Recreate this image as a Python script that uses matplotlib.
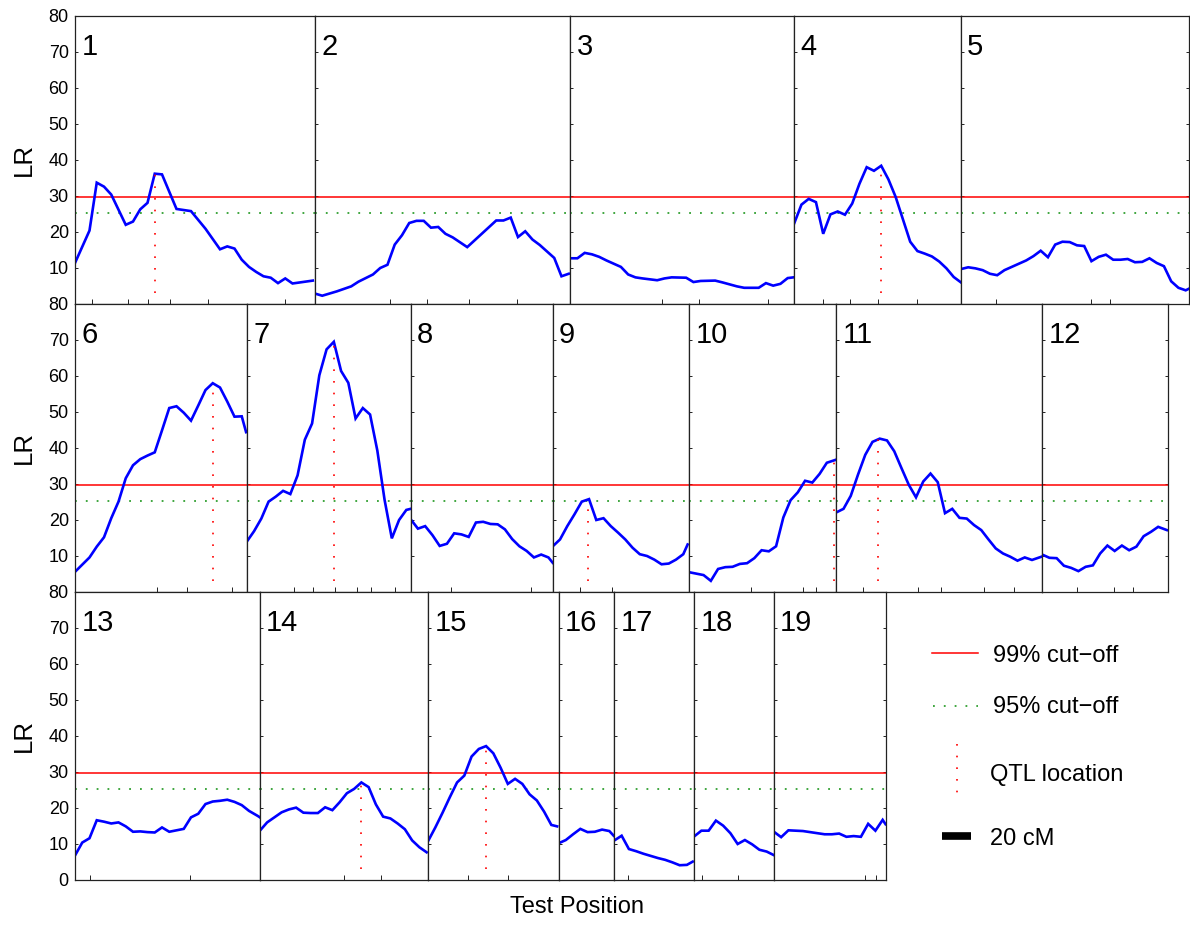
import numpy as np
import matplotlib
matplotlib.use('Agg')
import matplotlib.pyplot as plt

plt.rcParams['font.family'] = ['Liberation Sans', 'DejaVu Sans']

# chromosome lengths (cM) and how they are split over the three rows
chrom_len = [165.5, 176, 154.5, 115, 157, 118.5, 113, 98, 94, 101.5, 142, 87,
             127.5, 116, 90, 38.5, 55, 55, 77]
rows = [list(range(0, 5)), list(range(5, 12)), list(range(12, 19))]

# LR profile along each chromosome: test position (cM) and LR
pos_1 = [0, 10, 15, 20, 25, 35, 40, 45, 50, 55, 60, 70, 80, 90, 100, 105, 110, 115, 120, 125, 130, 135, 140, 145, 150, 164]
lr_1 = [11.4, 20.4, 33.7, 32.6, 30.4, 22.0, 22.9, 26.3, 28.1, 36.2, 36.0, 26.4, 25.8, 20.9, 15.2, 16.0, 15.4, 12.3, 10.3, 8.9, 7.7, 7.3, 5.8, 7.1, 5.7, 6.5]
pos_2 = [0, 5, 15, 25, 30, 40, 45, 50, 55, 60, 65, 70, 75, 80, 85, 90, 95, 105, 115, 125, 130, 135, 140, 145, 150, 155, 165, 170, 175]
lr_2 = [2.9, 2.3, 3.5, 4.9, 6.2, 8.2, 10.0, 10.9, 16.5, 19.1, 22.5, 23.1, 23.1, 21.2, 21.4, 19.5, 18.5, 15.8, 19.5, 23.2, 23.2, 24.0, 18.6, 20.2, 17.9, 16.4, 12.8, 7.7, 8.4]
pos_3 = [0, 5, 10, 15, 20, 25, 35, 40, 45, 50, 60, 65, 70, 80, 85, 90, 100, 105, 115, 120, 130, 135, 140, 145, 150, 154]
lr_3 = [12.7, 12.7, 14.2, 13.8, 13.1, 12.1, 10.3, 8.2, 7.4, 7.1, 6.6, 7.1, 7.4, 7.3, 6.1, 6.4, 6.5, 6.0, 4.9, 4.5, 4.5, 5.8, 5.1, 5.6, 7.2, 7.4]
pos_4 = [0, 5, 10, 15, 20, 25, 30, 35, 40, 45, 50, 55, 60, 65, 70, 80, 85, 90, 95, 100, 105, 110, 115]
lr_4 = [22.4, 27.6, 29.2, 28.3, 19.5, 24.9, 25.7, 24.8, 27.9, 33.4, 38.0, 37.0, 38.4, 34.6, 29.7, 17.3, 14.7, 14.0, 13.2, 11.8, 9.9, 7.5, 6.0]
pos_5 = [0, 5, 10, 15, 20, 25, 30, 35, 45, 50, 55, 60, 65, 70, 75, 80, 85, 90, 95, 100, 105, 110, 115, 120, 125, 130, 135, 140, 145, 150, 155, 157]
lr_5 = [9.7, 10.2, 9.9, 9.4, 8.4, 8.0, 9.4, 10.3, 12.1, 13.3, 14.8, 13.0, 16.5, 17.3, 17.2, 16.3, 16.1, 11.9, 13.1, 13.7, 12.3, 12.3, 12.5, 11.6, 11.7, 12.7, 11.4, 10.5, 6.3, 4.5, 3.8, 4.2]
pos_6 = [0, 10, 15, 20, 25, 30, 35, 40, 45, 50, 55, 60, 65, 70, 75, 80, 85, 90, 95, 100, 105, 110, 115, 118]
lr_6 = [5.6, 9.6, 12.6, 15.2, 20.5, 25.1, 31.6, 35.2, 36.9, 37.9, 38.8, 44.9, 51.1, 51.6, 49.8, 47.6, 51.8, 56.1, 58.0, 56.8, 52.9, 48.7, 48.8, 44.4]
pos_7 = [0, 5, 10, 15, 20, 25, 30, 35, 40, 45, 50, 55, 60, 65, 70, 75, 80, 85, 90, 95, 100, 105, 110, 113]
lr_7 = [14.0, 16.9, 20.4, 25.1, 26.5, 28.1, 27.2, 32.4, 42.3, 46.8, 60.2, 67.4, 69.5, 61.4, 58.1, 48.2, 51.1, 49.3, 39.3, 25.6, 14.9, 20.0, 22.8, 23.1]
pos_8 = [0, 5, 10, 15, 20, 25, 30, 35, 40, 45, 50, 55, 60, 65, 70, 75, 80, 85, 90, 95, 98]
lr_8 = [20.2, 17.6, 18.3, 15.8, 12.8, 13.4, 16.3, 16.0, 15.3, 19.3, 19.5, 18.9, 18.8, 17.4, 14.7, 12.7, 11.4, 9.6, 10.4, 9.6, 8.1]
pos_9 = [0, 5, 10, 15, 20, 25, 30, 35, 40, 45, 50, 55, 60, 65, 70, 75, 80, 85, 90, 93]
lr_9 = [12.7, 14.6, 18.3, 21.6, 25.1, 25.8, 20.0, 20.5, 18.3, 16.5, 14.6, 12.3, 10.5, 10.0, 9.0, 7.7, 7.9, 9.0, 10.5, 13.2]
pos_10 = [0, 5, 10, 15, 20, 25, 30, 35, 40, 45, 50, 55, 60, 65, 70, 75, 80, 85, 90, 95, 101]
lr_10 = [5.5, 5.1, 4.7, 3.1, 6.4, 6.9, 7.0, 7.8, 8.0, 9.4, 11.6, 11.3, 12.7, 20.7, 25.5, 27.7, 30.9, 30.4, 32.8, 35.9, 36.7]
pos_11 = [0, 5, 10, 15, 20, 25, 30, 35, 40, 45, 50, 55, 60, 65, 70, 75, 80, 85, 90, 95, 100, 105, 110, 115, 120, 125, 130, 135, 141.5]
lr_11 = [22.1, 23.1, 26.7, 32.6, 38.1, 41.7, 42.6, 42.1, 39.1, 34.4, 29.8, 26.3, 30.7, 32.9, 30.5, 21.9, 23.1, 20.6, 20.4, 18.6, 17.2, 14.6, 12.1, 10.7, 9.8, 8.7, 9.6, 8.9, 9.8]
pos_12 = [0, 5, 10, 15, 20, 25, 30, 35, 40, 45, 50, 55, 60, 65, 70, 75, 80, 86]
lr_12 = [10.4, 9.5, 9.4, 7.3, 6.7, 5.8, 7.0, 7.4, 10.7, 12.9, 11.4, 12.9, 11.6, 12.6, 15.5, 16.7, 18.1, 17.2]
pos_13 = [0, 5, 10, 15, 20, 25, 30, 35, 40, 45, 50, 55, 60, 65, 70, 75, 80, 85, 90, 95, 100, 105, 110, 115, 120, 126, 127.5]
lr_13 = [6.8, 10.4, 11.6, 16.6, 16.2, 15.7, 16.0, 14.9, 13.4, 13.5, 13.3, 13.2, 14.6, 13.4, 13.8, 14.2, 17.4, 18.4, 21.1, 21.8, 22.0, 22.3, 21.7, 20.8, 19.2, 17.8, 17.4]
pos_14 = [0, 5, 10, 15, 20, 25, 30, 35, 40, 45, 50, 55, 60, 65, 70, 75, 80, 85, 90, 95, 100, 105, 110, 115]
lr_14 = [13.7, 16.0, 17.4, 18.8, 19.6, 20.1, 18.7, 18.6, 18.6, 20.2, 19.4, 21.6, 24.1, 25.3, 27.1, 25.8, 21.0, 17.6, 17.1, 15.7, 14.1, 11.0, 9.1, 7.7]
pos_15 = [0, 5, 10, 15, 20, 25, 30, 35, 40, 45, 50, 55, 60, 65, 70, 75, 80, 85, 89]
lr_15 = [10.8, 14.6, 18.7, 23.0, 27.1, 29.0, 34.3, 36.4, 37.2, 35.2, 31.2, 26.7, 28.1, 26.7, 23.8, 22.1, 19.0, 15.3, 14.9]
pos_16 = [0, 5, 10, 15, 20, 25, 30, 35, 38]
lr_16 = [10.2, 11.1, 12.7, 14.2, 13.3, 13.4, 14.0, 13.6, 12.3]
pos_17 = [0, 5, 10, 15, 20, 25, 30, 35, 40, 45, 50, 54]
lr_17 = [11.0, 12.3, 8.6, 8.0, 7.3, 6.7, 6.1, 5.6, 4.9, 4.1, 4.2, 5.1]
pos_18 = [0, 5, 10, 15, 20, 25, 30, 35, 40, 45, 50, 55]
lr_18 = [12.1, 13.7, 13.7, 16.5, 15.1, 13.0, 10.0, 11.1, 9.9, 8.4, 7.9, 6.9]
pos_19 = [0, 5, 10, 20, 25, 35, 40, 45, 50, 55, 60, 65, 70, 75, 77]
lr_19 = [13.4, 11.9, 13.8, 13.6, 13.3, 12.7, 12.7, 12.9, 12.0, 12.2, 12.0, 15.6, 13.7, 16.7, 15.5]

positions = [pos_1, pos_2, pos_3, pos_4, pos_5, pos_6, pos_7, pos_8, pos_9, pos_10,
             pos_11, pos_12, pos_13, pos_14, pos_15, pos_16, pos_17, pos_18, pos_19]
lr_values = [lr_1, lr_2, lr_3, lr_4, lr_5, lr_6, lr_7, lr_8, lr_9, lr_10,
             lr_11, lr_12, lr_13, lr_14, lr_15, lr_16, lr_17, lr_18, lr_19]

# marker positions shown as small ticks on the bottom axis
markers = [[11.5, 36.8, 50.6, 65.5, 92, 144.8], [51.7, 77.5, 106.4, 139.5], [63.2, 88.5, 136.3],
           [20, 38.4, 57.9, 85], [23.9, 89.7, 102.8], [56.6, 77.4, 108],
           [32.3, 45.9, 60.9, 75.9, 85.5, 102.5], [27.6, 82.8], [18.6, 41], [42.7, 78.6, 87.3],
           [18.4, 56.5, 72.3, 101.9, 122.4], [23.8, 49.3, 62.6], [10.5, 79], [57.9, 83.6],
           [27.6, 55.3], [], [9.1], [5.7, 30.5], [62.9, 70.2]]

qtl_chrom = [1, 4, 6, 7, 9, 10, 11, 14, 15]
qtl_pos = [55, 60, 95, 60, 24, 100, 29, 70, 40]

cut_99 = 29.6
cut_95 = 25.4
scale_bar_cm = 20

W, H = 1190, 925
PX_PER_CM = 1.45
LEFT = 75
ROW_TOP = [16, 304, 592]
ROW_H = 288

RED = '#ff0000'
GREEN = '#2f9f2f'
BLUE = '#0000ff'
FRAME = '#222222'

fig = plt.figure(figsize=(W / 100, H / 100), dpi=100)

for r, chroms in enumerate(rows):
    x0 = LEFT
    for k, c in enumerate(chroms):
        w = chrom_len[c] * PX_PER_CM
        ax = fig.add_axes([x0 / W, 1 - (ROW_TOP[r] + ROW_H) / H, w / W, ROW_H / H])
        x0 += w
        ax.set_xlim(0, chrom_len[c])
        ax.set_ylim(0, 80)

        ax.axhline(cut_99, color=RED, lw=1.1)
        ax.axhline(cut_95, color=GREEN, lw=1.3, ls=(0, (1, 5)))
        ax.plot(positions[c], lr_values[c], color=BLUE, lw=1.9, solid_joinstyle='miter')

        if c + 1 in qtl_chrom:
            q = qtl_pos[qtl_chrom.index(c + 1)]
            top = np.interp(q, positions[c], lr_values[c])
            ax.vlines(q, 3, top, color=RED, lw=1.2, linestyles=[(0, (1, 6))])

        ax.annotate(str(c + 1), xy=(0, 1), xycoords='axes fraction',
                    xytext=(4.5, -12.5), textcoords='offset points',
                    ha='left', va='top', fontsize=21)

        for s in ax.spines.values():
            s.set_color(FRAME)
            s.set_linewidth(0.9)
        ax.set_yticks(range(0, 81, 10))
        # the row below labels the shared boundary with its "80"
        if r < 2:
            ax.set_yticklabels([''] + [str(v) for v in range(10, 81, 10)])
        ax.set_xticks(markers[c])
        ax.tick_params(axis='x', direction='in', length=3.5, width=0.7, color=FRAME,
                       labelbottom=False)
        ax.tick_params(axis='y', direction='in', length=2.5, width=0.7, color=FRAME,
                       labelsize=13, pad=4.5, labelleft=(k == 0),
                       right=(k == len(chroms) - 1))

    fig.text(24 / W, 1 - (ROW_TOP[r] + ROW_H / 2) / H, 'LR', rotation=90,
             ha='center', va='center', fontsize=18.5)

fig.text(577 / W, 1 - 907 / H, 'Test Position', ha='center', va='center', fontsize=17)

# legend drawn in its own axes: x in cM so the scale bar matches the panels
leg = fig.add_axes([900 / W, 1 - 880 / H, 290 / W, 260 / H])
leg.set_xlim(0, 290 / PX_PER_CM)
leg.set_ylim(880, 620)
leg.axis('off')


def cm(px):
    return (px - 900) / PX_PER_CM


leg.plot([cm(932), cm(978)], [653, 653], color=RED, lw=1.1)
leg.text(cm(993), 662, '99% cut\u2212off', va='baseline', fontsize=17)
leg.plot([cm(933), cm(978)], [706, 706], color=GREEN, lw=1.3, ls=(0, (1, 5)))
leg.text(cm(993), 713, '95% cut\u2212off', va='baseline', fontsize=17)
leg.plot([cm(957), cm(957)], [744, 793], color=RED, lw=1.2, ls=(0, (1, 6)))
leg.text(cm(990), 781, 'QTL location', va='baseline', fontsize=17)
leg.plot([cm(942), cm(942) + scale_bar_cm], [836, 836], color='black', lw=5.5,
         solid_capstyle='butt')
leg.text(cm(990), 845, '20 cM', va='baseline', fontsize=17)

fig.savefig('out.png', dpi=100)
